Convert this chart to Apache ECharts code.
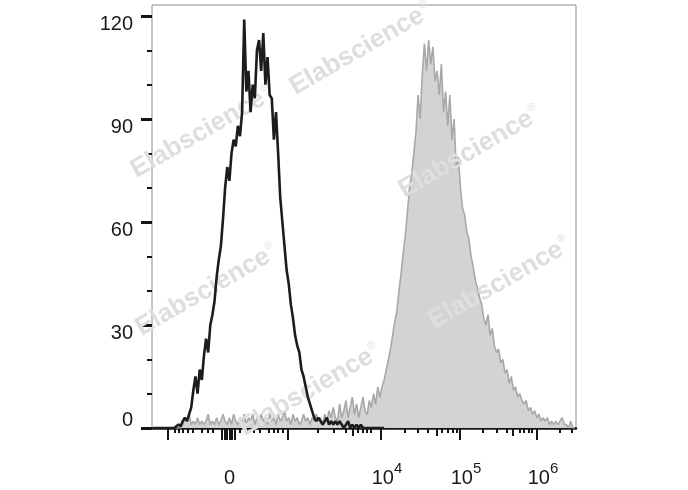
<!DOCTYPE html>
<html><head><meta charset="utf-8">
<script src="https://cdn.jsdelivr.net/npm/echarts@6/dist/echarts.min.js"></script>
<style>html,body{margin:0;padding:0;background:#fff}#c{width:688px;height:490px}</style>
</head><body><div id="c"></div>
<script>
// Histogram bins on the display (channel) scale 0..1000
const binStart = 0;
const binWidth = 5;

const grayCounts = [
0,0,0,0,0,0,0,0,0,0,0,0,0,0,
1,3,2,4,1,2,1,3,1,2,
1,2,4,1,2,1,3,1,2,4,
2,1,3,1,4,2,1,3,2,4,
1,3,2,4,1,3,2,4,2,3,
1,4,2,3,1,4,2,3,5,2,
3,1,4,2,3,1,2,4,2,3,
1,3,2,4,2,3,1,4,2,5,
3,6,3,2,7,3,5,8,3,6,
9,4,7,3,6,9,5,4,8,6,
10,7,12,9,12,14,17,20,23,27,
31,34,40,45,51,56,63,70,74,80,
86,97,90,103,112,104,113,106,111,101,
104,97,106,92,98,88,97,84,90,76,79,
70,64,62,57,55,50,47,43,41,38,
36,32,30,33,27,29,24,22,23,19,
20,16,17,13,15,11,12,9,10,8,
7,8,5,6,4,5,3,4,2,3,
2,3,1,2,1,2,1,2,3,1,
1,0,2,0,0
];

const blackCounts = [
0,0,0,0,0,0,0,0,0,0,0,
0.5,1,0.5,2,3,2,4,6,11,15,
10,17,14,21,26,22,30,33,37,44,
49,53,61,70,76,72,80,84,82,88,
85,92,119,98,104,92,100,96,110,113,
104,115,100,108,97,96,84,92,80,67,
60,53,46,42,36,32,27,24,22,17,
15,12,9,7,5,3,2,3,2,1,
2,3,1,2,1,2,1,2,1,0,
1,2,0,1,0,1,0,1,0,
0,0,0,0,0,0,0,0,0,0
];

const yMajorTicks = [0, 30, 60, 90, 120];
const yMinorTicks = [10, 20, 40, 50, 70, 80, 100, 110];
const yLabelValues = [30, 60, 90, 120];
const yZeroLabel = [0];

const xMajorTicks = [37.7, 165.1, 171.0, 176.9, 182.8, 188.7, 194.6, 320.8, 540.1, 726.4, 908.0];
const xMediumTicks = [474.1, 672.2, 851.4];
const xMinorTicks = [52.6, 63.7, 73.1, 84.9, 96.7, 117.9, 132.1, 143.9, 207.5, 224.1, 240.6, 254.7,
  276.0, 287.7, 297.2, 309.0, 391.5, 429.2, 457.5, 485.8, 497.6, 507.0, 516.5, 596.7, 627.4, 651.0,
  684.0, 698.1, 709.9, 719.4, 780.7, 813.7, 837.3, 868.0, 877.4, 889.2, 896.2, 962.3, 990.6];
const xLabelValues = [182.8, 540.1, 726.4, 908.0];
const xLabelBase = ['0', '10', '10', '10'];
const xLabelExp = ['', '4', '5', '6'];

const watermarkText = 'Elabscience';

const toPoints = arr => arr.map((v, i) => [binStart + binWidth * (i + 0.5), v]);

const FONT = 'Liberation Sans, Arial, Helvetica, sans-serif';
const chart = echarts.init(document.getElementById('c'), null, {renderer: 'canvas'});

const WM = '#dedede';
const wmPos = [[361, 49], [470, 152], [202, 132], [207, 290], [500, 283], [310, 390]];
const graphics = wmPos.map(p => ({
  type: 'text', x: p[0], y: p[1], rotation: Math.PI / 6, z: 5, silent: true,
  style: {
    text: '{a|' + watermarkText + '}{r|®}',
    textAlign: 'center', textVerticalAlign: 'middle',
    rich: {
      a: {font: 'bold 26px ' + FONT, fill: WM, color: WM},
      r: {font: '11px ' + FONT, fill: WM, color: WM, verticalAlign: 'top', padding: [0, 0, 14, 1]}
    }
  }
}));

const tickStyle = w => ({color: '#151515', width: w});

chart.setOption({
  animation: false,
  backgroundColor: '#ffffff',
  grid: {left: 152, top: 5, width: 424, height: 423, show: true, borderColor: '#8c8c8c', borderWidth: 1, backgroundColor: 'transparent'},
  graphic: {elements: graphics},
  xAxis: [
    {
      type: 'value', min: 0, max: 1000, position: 'bottom',
      axisLine: {show: true, onZero: false, lineStyle: {color: '#151515', width: 2.5}},
      axisTick: {show: true, customValues: xMajorTicks, length: 12, lineStyle: tickStyle(2)},
      splitLine: {show: false},
      axisLabel: {
        show: true, customValues: xLabelValues, margin: 33,
        formatter: v => {
          let k = 0, best = 1e9;
          xLabelValues.forEach((lv, j) => { if (Math.abs(lv - v) < best) { best = Math.abs(lv - v); k = j; } });
          return xLabelExp[k] ? '{p|' + xLabelBase[k] + '}{s|' + xLabelExp[k] + '}' : '{b|' + xLabelBase[k] + '}';
        },
        rich: {
          b: {fontSize: 20, fontFamily: FONT, color: '#1a1a1a', padding: [7, 0, 0, 0], verticalAlign: 'bottom'},
          p: {fontSize: 20, fontFamily: FONT, color: '#1a1a1a', padding: [7, 0, 0, 12], verticalAlign: 'bottom'},
          s: {fontSize: 15, fontFamily: FONT, color: '#1a1a1a', verticalAlign: 'top'}
        }
      }
    },
    {
      type: 'value', min: 0, max: 1000, position: 'bottom',
      axisLine: {show: false}, splitLine: {show: false}, axisLabel: {show: false},
      axisTick: {show: true, customValues: xMinorTicks, length: 5, lineStyle: tickStyle(2)}
    },
    {
      type: 'value', min: 0, max: 1000, position: 'bottom',
      axisLine: {show: false}, splitLine: {show: false}, axisLabel: {show: false},
      axisTick: {show: true, customValues: xMediumTicks, length: 8, lineStyle: tickStyle(2)}
    }
  ],
  yAxis: [
    {
      type: 'value', min: 0, max: 123.2, position: 'left',
      axisLine: {show: false}, splitLine: {show: false},
      axisTick: {show: true, customValues: yMajorTicks, length: 11, lineStyle: tickStyle(3)},
      axisLabel: {show: true, customValues: yLabelValues, margin: 19, verticalAlign: 'middle',
        formatter: v => '{a|' + v + '}',
        rich: {a: {fontSize: 20, fontFamily: FONT, color: '#1a1a1a', padding: [17, 0, 0, 0]}}}
    },
    {
      type: 'value', min: 0, max: 123.2, position: 'left',
      axisLine: {show: false}, splitLine: {show: false},
      axisTick: {show: true, customValues: yMinorTicks, length: 5, lineStyle: tickStyle(2)},
      axisLabel: {show: true, customValues: yZeroLabel, margin: 19, verticalAlign: 'middle',
        formatter: v => '{a|' + v + '}',
        rich: {a: {fontSize: 20, fontFamily: FONT, color: '#1a1a1a', padding: [0, 0, 15, 0]}}}
    }
  ],
  series: [
    {
      type: 'line', name: 'stained', xAxisIndex: 0, yAxisIndex: 0, z: 2,
      data: toPoints(grayCounts), symbol: 'none', smooth: false,
      lineStyle: {color: '#a8a8a8', width: 1.6},
      areaStyle: {color: '#d3d3d3', opacity: 1}
    },
    {
      type: 'line', name: 'control', xAxisIndex: 0, yAxisIndex: 0, z: 10,
      data: toPoints(blackCounts), symbol: 'none', smooth: false,
      lineStyle: {color: '#1c1c1c', width: 2.6}
    }
  ]
});
</script></body></html>
